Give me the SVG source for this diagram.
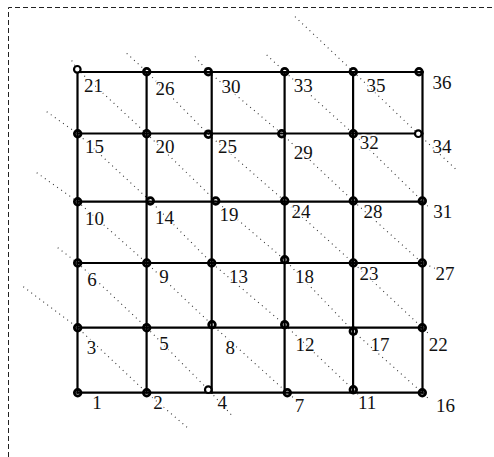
<svg xmlns="http://www.w3.org/2000/svg" width="494" height="457" viewBox="0 0 494 457">
<style>
.border{fill:none;stroke:#222;stroke-width:1;stroke-dasharray:5 3}
.grid{fill:none;stroke:#000;stroke-width:2.2;stroke-linecap:square}
.diag{fill:none;stroke:#333;stroke-width:1.1;stroke-dasharray:1 4}
.n circle{fill:none;stroke:#000;stroke-width:2.8;r:3.3px}
.n circle.open{fill:#fff;stroke-width:2.2}
.n text{font-family:"Liberation Serif","Times New Roman",serif;font-size:19px;fill:#111;stroke:#fff;stroke-width:3;paint-order:stroke;stroke-linejoin:round}
</style>
<rect width="494" height="457" fill="#fff"/>
<path class="border" d="M8.5,457 V7.5 H494"/>
<g id="connectors">
<path class="diag" d="M23.3,286.7 L77.7,327.7 L146.7,392.7 L188.3,428.3"/>
<path class="diag" d="M57.7,247.7 L77.7,263 L146.7,327.7 L208.3,389.7 L231.7,415.3"/>
<path class="diag" d="M36.7,172.7 L77.7,201.7 L146.7,263 L212,324.7 L287.3,392.7 L295,399"/>
<path class="diag" d="M46.7,111.7 L77.7,133.7 L150.3,201 L211.7,263 L284.7,324.7 L353.3,389.7 L359,395"/>
<path class="diag" d="M71.7,60.5 L77.3,69.3 L146.7,133.7 L215.7,201 L284.7,259.7 L353.3,331.3 L422.3,392.7 L430,400"/>
<path class="diag" d="M126.7,53.3 L146.7,71.7 L208.3,134.3 L284.7,201 L353.3,263 L422.3,327.7 L429,334"/>
<path class="diag" d="M195,56.5 L208.3,71.7 L281.7,133.7 L353.3,201 L422.3,263 L435,268.3"/>
<path class="diag" d="M266.7,55 L284.7,71.7 L353.3,133.7 L422.3,201 L430,208.3"/>
<path class="diag" d="M295,16.7 L353.3,71.7 L418.3,134 L456.7,170"/>
<path class="grid" d="M77.5,72 H422.5 M77.5,133.5 H422.5 M77.5,201.7 H422.5 M77.5,263 H422.5 M77.5,327.7 H422.5 M77.5,392.7 H422.5"/>
<path class="grid" d="M77.5,72 V392.7 M146.6,72 V392.7 M211.7,72 V392.7 M284.6,72 V392.7 M353.1,72 V392.7 M422.5,72 V392.7"/>
</g>
<g id="n1" class="n"><circle cx="77.7" cy="392.7" r="3.3"/><text x="92.3" y="408.5">1</text></g>
<g id="n2" class="n"><circle cx="146.7" cy="392.7" r="3.3"/><text x="153.3" y="409">2</text></g>
<g id="n3" class="n"><circle cx="77.7" cy="327.7" r="3.3"/><text x="86.8" y="354">3</text></g>
<g id="n4" class="n"><circle class="open" cx="208.3" cy="389.7" r="3.3"/><text x="217.5" y="408.5">4</text></g>
<g id="n5" class="n"><circle cx="146.7" cy="327.7" r="3.3"/><text x="159.2" y="350">5</text></g>
<g id="n6" class="n"><circle cx="77.7" cy="263" r="3.3"/><text x="87.3" y="286.3">6</text></g>
<g id="n7" class="n"><circle cx="287.3" cy="392.7" r="3.3"/><text x="294.8" y="412">7</text></g>
<g id="n8" class="n"><circle cx="212" cy="324.7" r="3.3"/><text x="225.5" y="353.8">8</text></g>
<g id="n9" class="n"><circle cx="146.7" cy="263" r="3.3"/><text x="159.2" y="283.2">9</text></g>
<g id="n10" class="n"><circle cx="77.7" cy="201.7" r="3.3"/><text x="85" y="225">10</text></g>
<g id="n11" class="n"><circle cx="353.3" cy="389.7" r="3.3"/><text x="358" y="408.7">11</text></g>
<g id="n12" class="n"><circle cx="284.7" cy="324.7" r="3.3"/><text x="295.6" y="350.8">12</text></g>
<g id="n13" class="n"><circle cx="211.7" cy="263" r="3.3"/><text x="229" y="283.3">13</text></g>
<g id="n14" class="n"><circle cx="150.3" cy="201" r="3.3"/><text x="155" y="224">14</text></g>
<g id="n15" class="n"><circle cx="77.7" cy="133.7" r="3.3"/><text x="85" y="153.3">15</text></g>
<g id="n16" class="n"><circle cx="422.3" cy="392.7" r="3.3"/><text x="436" y="412">16</text></g>
<g id="n17" class="n"><circle cx="353.3" cy="331.3" r="3.3"/><text x="370.5" y="350.8">17</text></g>
<g id="n18" class="n"><circle cx="284.7" cy="259.7" r="3.3"/><text x="295" y="283.3">18</text></g>
<g id="n19" class="n"><circle cx="215.7" cy="201" r="3.3"/><text x="219.5" y="220.5">19</text></g>
<g id="n20" class="n"><circle cx="146.7" cy="133.7" r="3.3"/><text x="155.6" y="152.8">20</text></g>
<g id="n21" class="n"><circle class="open" cx="77.3" cy="69.3" r="3.3"/><text x="84" y="91.7">21</text></g>
<g id="n22" class="n"><circle cx="422.3" cy="327.7" r="3.3"/><text x="428.8" y="350.8">22</text></g>
<g id="n23" class="n"><circle cx="353.3" cy="263" r="3.3"/><text x="359.5" y="280.2">23</text></g>
<g id="n24" class="n"><circle cx="284.7" cy="201" r="3.3"/><text x="291.6" y="217.5">24</text></g>
<g id="n25" class="n"><circle cx="208.3" cy="134.3" r="3.3"/><text x="218" y="153.3">25</text></g>
<g id="n26" class="n"><circle cx="146.7" cy="71.7" r="3.3"/><text x="155.6" y="95">26</text></g>
<g id="n27" class="n"><circle cx="422.3" cy="263" r="3.3"/><text x="435.6" y="280.2">27</text></g>
<g id="n28" class="n"><circle cx="353.3" cy="201" r="3.3"/><text x="363.5" y="218">28</text></g>
<g id="n29" class="n"><circle cx="281.7" cy="133.7" r="3.3"/><text x="293.8" y="159.4">29</text></g>
<g id="n30" class="n"><circle cx="208.3" cy="71.7" r="3.3"/><text x="221.6" y="92.7">30</text></g>
<g id="n31" class="n"><circle cx="422.3" cy="201" r="3.3"/><text x="433.2" y="218">31</text></g>
<g id="n32" class="n"><circle cx="353.3" cy="133.7" r="3.3"/><text x="359.8" y="149.4">32</text></g>
<g id="n33" class="n"><circle cx="284.7" cy="71.7" r="3.3"/><text x="293.8" y="91.7">33</text></g>
<g id="n34" class="n"><circle class="open" cx="418.3" cy="133.7" r="3.3"/><text x="432.5" y="153.3">34</text></g>
<g id="n35" class="n"><circle cx="353.3" cy="71.7" r="3.3"/><text x="366.5" y="91.7">35</text></g>
<g id="n36" class="n"><circle cx="419" cy="71.7" r="3.3"/><text x="432.5" y="89.3">36</text></g>
</svg>
